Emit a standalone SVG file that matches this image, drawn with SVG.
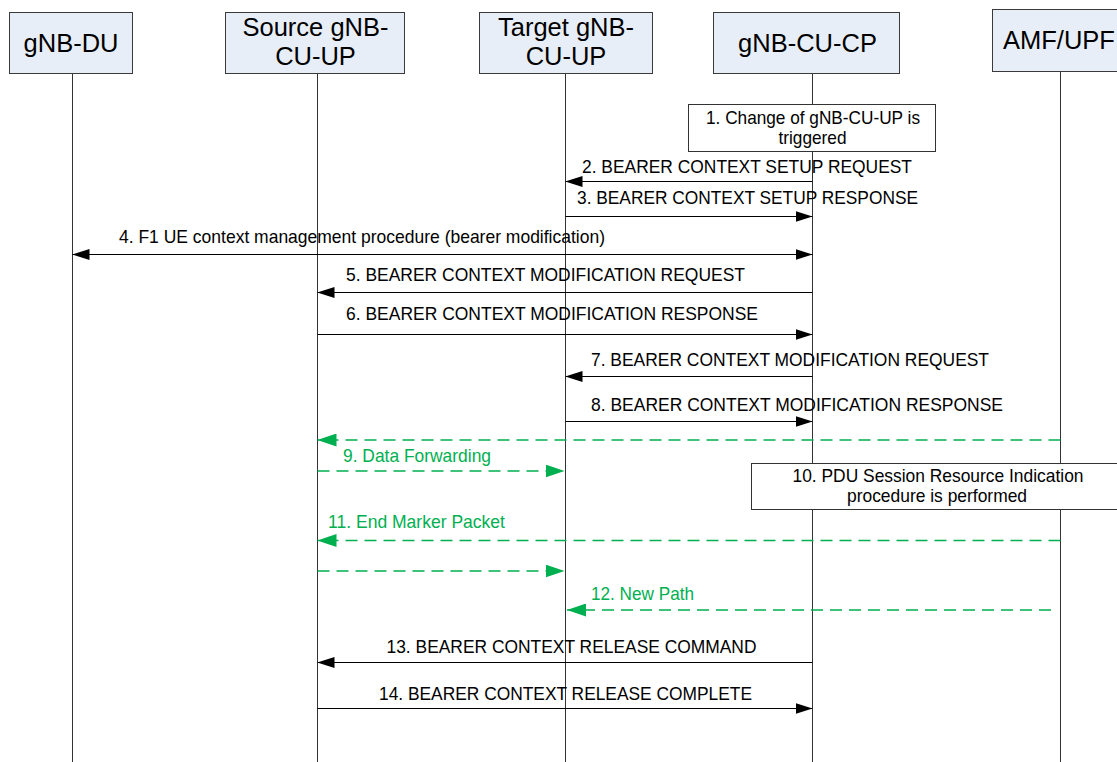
<svg xmlns="http://www.w3.org/2000/svg" width="1117" height="762" viewBox="0 0 1117 762">
<style>
.hdr{fill:#E8EEF7;stroke:#3a3a3a;stroke-width:1}
.ht{font-family:"Liberation Sans",Arial,sans-serif;font-size:25.5px;fill:#000;text-anchor:middle}
.life{stroke:#333;stroke-width:1;fill:none}
.note{fill:#fff;stroke:#333;stroke-width:1}
.t{font-family:"Liberation Sans",Arial,sans-serif;font-size:18.5px;fill:#000}
.tc{text-anchor:middle}
.g{fill:#00B050}
.msg{stroke:#000;stroke-width:1;fill:none;marker-end:url(#ah)}
.dat{stroke:#00B050;stroke-width:1.6;stroke-dasharray:12 7;fill:none;marker-end:url(#gh)}
</style>
<defs>
<marker id="ah" markerWidth="17" markerHeight="11" refX="17" refY="5.5" orient="auto" markerUnits="userSpaceOnUse"><path d="M0,0 L17,5.5 L0,11 z" fill="#000"/></marker>
<marker id="gh" markerWidth="19" markerHeight="13" refX="19" refY="6.5" orient="auto" markerUnits="userSpaceOnUse"><path d="M0,0 L19,6.5 L0,13 z" fill="#00B050"/></marker>
</defs>
<rect width="1117" height="762" fill="#fff"/>

<g id="gnb-du">
<line class="life" x1="72.5" y1="74" x2="72.5" y2="762"/>
<rect class="hdr" x="9.5" y="12.5" width="123" height="61"/>
<text class="ht" x="71" y="51.5">gNB-DU</text>
</g>
<g id="source-cu-up">
<line class="life" x1="317.5" y1="74" x2="317.5" y2="762"/>
<rect class="hdr" x="225.5" y="12.5" width="179" height="61"/>
<text class="ht" x="315.5" y="36">Source gNB-</text>
<text class="ht" x="315.5" y="65">CU-UP</text>
</g>
<g id="target-cu-up">
<line class="life" x1="565.5" y1="74" x2="565.5" y2="762"/>
<rect class="hdr" x="479.5" y="12.5" width="173" height="61"/>
<text class="ht" x="566" y="36">Target gNB-</text>
<text class="ht" x="566" y="65">CU-UP</text>
</g>
<g id="gnb-cu-cp">
<line class="life" x1="812.5" y1="74" x2="812.5" y2="762"/>
<rect class="hdr" x="713.5" y="12.5" width="186" height="61"/>
<text class="ht" x="807.5" y="51.5">gNB-CU-CP</text>
</g>
<g id="amf-upf">
<line class="life" x1="1060.5" y1="71" x2="1060.5" y2="762"/>
<rect class="hdr" x="992.5" y="9.5" width="130" height="62"/>
<text class="ht" style="text-anchor:start" x="1003" y="49">AMF/UPF</text>
</g>

<g id="connectors">
<line class="msg" x1="812.5" y1="181.5" x2="565.5" y2="181.5"/>
<line class="msg" x1="565.5" y1="216.5" x2="812.5" y2="216.5"/>
<line class="msg" x1="812.5" y1="254.5" x2="72.5" y2="254.5"/>
<line class="msg" x1="72.5" y1="254.5" x2="812.5" y2="254.5"/>
<line class="msg" x1="812.5" y1="292.5" x2="317.5" y2="292.5"/>
<line class="msg" x1="317.5" y1="334.5" x2="812.5" y2="334.5"/>
<line class="msg" x1="812.5" y1="376.5" x2="565.5" y2="376.5"/>
<line class="msg" x1="565.5" y1="421.5" x2="812.5" y2="421.5"/>
<line class="dat" x1="1060.5" y1="440" x2="317.5" y2="440"/>
<line class="dat" x1="317.5" y1="471" x2="564.5" y2="471"/>
<line class="dat" x1="1060.5" y1="540.5" x2="317.5" y2="540.5"/>
<line class="dat" x1="317.5" y1="571" x2="564.5" y2="571"/>
<line class="dat" x1="1051" y1="610" x2="567" y2="610"/>
<line class="msg" x1="812.5" y1="662.5" x2="317.5" y2="662.5"/>
<line class="msg" x1="317.5" y1="708.5" x2="812.5" y2="708.5"/>
</g>

<g id="labels">
<text class="t" x="582" y="172.5" textLength="330" lengthAdjust="spacingAndGlyphs">2. BEARER CONTEXT SETUP REQUEST</text>
<text class="t" x="577" y="204" textLength="341" lengthAdjust="spacingAndGlyphs">3. BEARER CONTEXT SETUP RESPONSE</text>
<text class="t" x="119" y="242.5" textLength="486" lengthAdjust="spacingAndGlyphs">4. F1 UE context management procedure (bearer modification)</text>
<text class="t" x="346" y="281" textLength="399" lengthAdjust="spacingAndGlyphs">5. BEARER CONTEXT MODIFICATION REQUEST</text>
<text class="t" x="346" y="320" textLength="412" lengthAdjust="spacingAndGlyphs">6. BEARER CONTEXT MODIFICATION RESPONSE</text>
<text class="t" x="591" y="365.5" textLength="398" lengthAdjust="spacingAndGlyphs">7. BEARER CONTEXT MODIFICATION REQUEST</text>
<text class="t" x="591" y="411" textLength="412" lengthAdjust="spacingAndGlyphs">8. BEARER CONTEXT MODIFICATION RESPONSE</text>
<text class="t g" x="343" y="461.5" textLength="148" lengthAdjust="spacingAndGlyphs">9. Data Forwarding</text>
<text class="t g" x="328" y="528" textLength="177" lengthAdjust="spacingAndGlyphs">11. End Marker Packet</text>
<text class="t g" x="591" y="600" textLength="103" lengthAdjust="spacingAndGlyphs">12. New Path</text>
<text class="t" x="386.5" y="652.5" textLength="370" lengthAdjust="spacingAndGlyphs">13. BEARER CONTEXT RELEASE COMMAND</text>
<text class="t" x="379" y="699.5" textLength="373" lengthAdjust="spacingAndGlyphs">14. BEARER CONTEXT RELEASE COMPLETE</text>
</g>

<g id="step1">
<rect class="note" x="688.5" y="104.5" width="247" height="47"/>
<text class="t tc" x="813" y="123.5" textLength="214" lengthAdjust="spacingAndGlyphs">1. Change of gNB-CU-UP is</text>
<text class="t tc" x="812.5" y="143.5" textLength="68" lengthAdjust="spacingAndGlyphs">triggered</text>
</g>
<g id="step10">
<rect class="note" x="751.5" y="463.5" width="380" height="46"/>
<text class="t tc" x="938" y="482" textLength="291" lengthAdjust="spacingAndGlyphs">10. PDU Session Resource Indication</text>
<text class="t tc" x="937" y="502" textLength="180" lengthAdjust="spacingAndGlyphs">procedure is performed</text>
</g>
</svg>
